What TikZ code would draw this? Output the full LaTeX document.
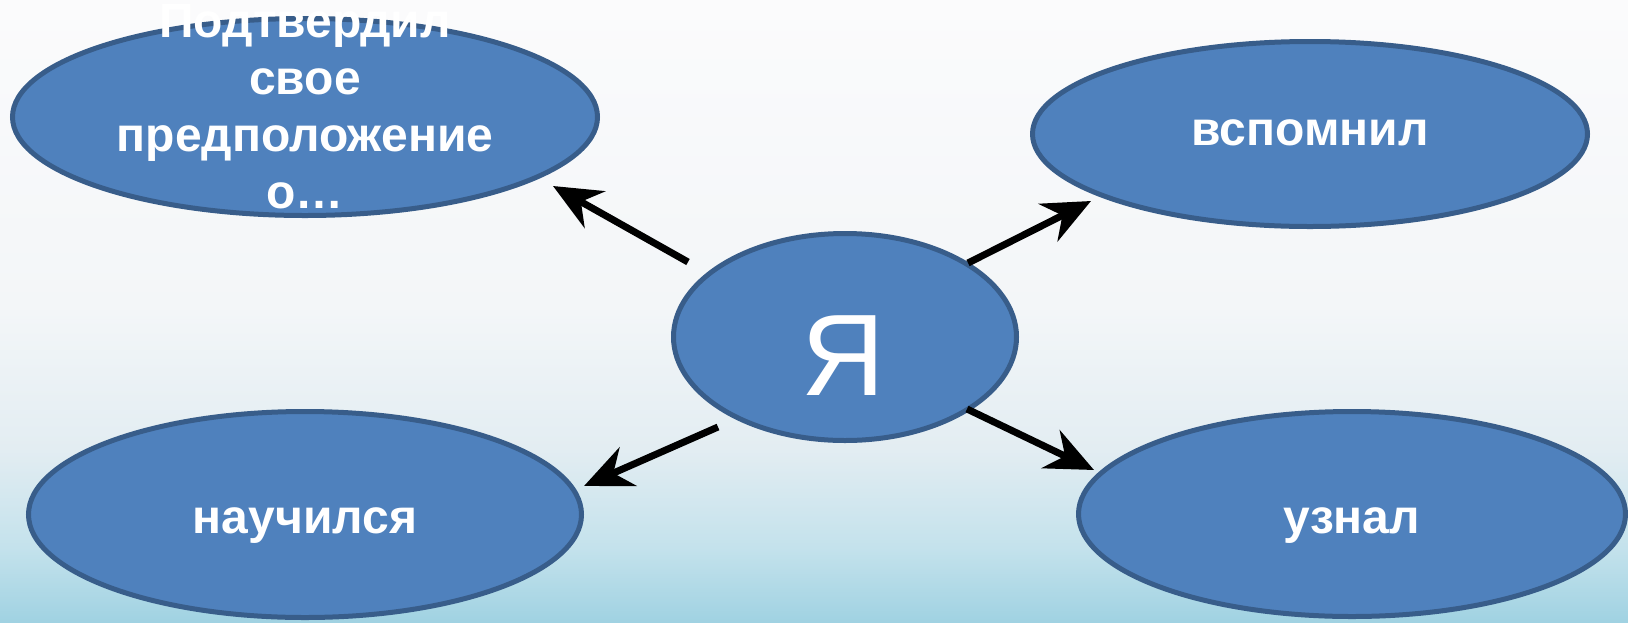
\documentclass[tikz,border=0pt]{standalone}
\usepackage{fontspec}
\setmainfont{Liberation Sans}
\usetikzlibrary{shapes.geometric,arrows.meta}
\definecolor{ellfill}{HTML}{4F81BD}
\definecolor{elldraw}{HTML}{385D8A}
\definecolor{bgA}{HTML}{A0D2E2}
\definecolor{bgB}{HTML}{C4E2EC}
\definecolor{bgC}{HTML}{E3EDF2}
\definecolor{bgD}{HTML}{F3F6F8}
\definecolor{bgE}{HTML}{FBFBFC}
\pgfdeclareverticalshading{bgshade}{100bp}{color(0bp)=(bgA); color(25bp)=(bgA); color(31bp)=(bgB); color(39bp)=(bgC); color(50bp)=(bgD); color(75bp)=(bgE); color(100bp)=(bgE)}
\tikzset{
  ell/.style={ellipse, draw=elldraw, fill=ellfill, line width=5pt, inner sep=0pt, outer sep=0pt},
  lbl/.style={text=white, font=\bfseries\fontsize{48}{57}\selectfont, align=center, inner sep=0pt},
  arr/.style={line width=7pt, draw=black, -{Stealth[length=48pt,width=42pt,inset=16pt]}}
}
\begin{document}
\begin{tikzpicture}[x=1pt,y=-1pt]
\useasboundingbox (0,0) rectangle (1628,622);
\shade[shading=bgshade] (0,0) rectangle (1628,622);
% ellipses
\node[ell, minimum width=585pt, minimum height=197pt] (tl) at (305,117) {};
\node[ell, minimum width=555pt, minimum height=185pt] (tr) at (1310,134) {};
\node[ell, minimum width=343pt, minimum height=207pt] (c) at (845,337) {};
\node[ell, minimum width=553pt, minimum height=206pt] (bl) at (305,514.5) {};
\node[ell, minimum width=547pt, minimum height=205pt] (br) at (1352,514) {};
% labels
\node[lbl] (tlt) at (305,107) {Подтвердил\\свое\\предположение\\о…};
\node[lbl, anchor=base] (trt) at (1310,145) {вспомнил};
\node[lbl, anchor=base] (blt) at (305,533) {научился};
\node[lbl, anchor=base] (brt) at (1352,533) {узнал};
\node[text=white, font=\fontsize{116}{116}\selectfont, inner sep=0pt, anchor=base] (ct) at (843,395) {Я};
% arrow ends
\coordinate (tlA) at (688,262);
\coordinate (tlB) at (553,186);
\coordinate (trA) at (968,263);
\coordinate (trB) at (1091,201);
\coordinate (blA) at (718,427);
\coordinate (blB) at (584,486);
\coordinate (brA) at (967,409);
\coordinate (brB) at (1094,470);
\draw[arr] (tlA) -- (tlB);
\draw[arr] (trA) -- (trB);
\draw[arr] (blA) -- (blB);
\draw[arr] (brA) -- (brB);
\end{tikzpicture}
\end{document}
